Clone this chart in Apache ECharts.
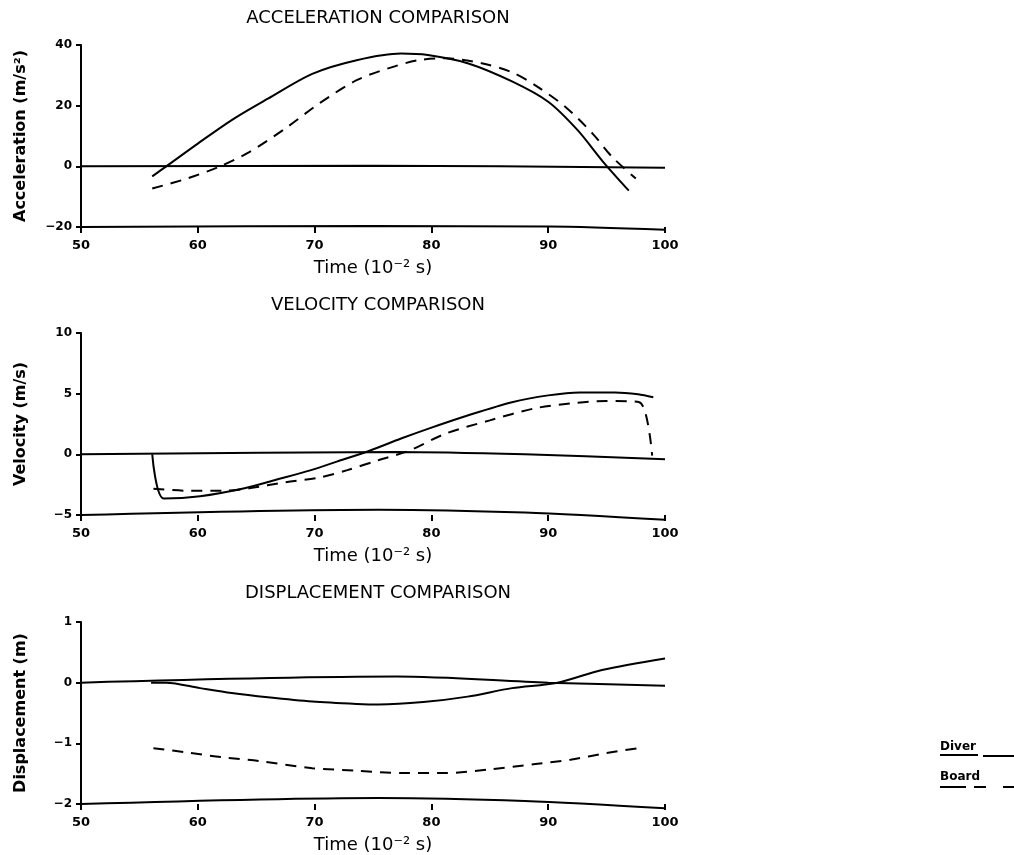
<!DOCTYPE html>
<html>
<head>
<meta charset="utf-8">
<script src="https://cdn.jsdelivr.net/npm/echarts@6/dist/echarts.min.js"></script>
<style>
  body { margin: 0; background: #fff; }
  #chart { width: 1014px; height: 855px; }
</style>
</head>
<body>
<div id="chart"></div>
<script>
// time axis ticks (10^-2 s)
var timeTicks = [50, 60, 70, 80, 90, 100];

// acceleration (m/s^2)
var accDiver = [[56.1,-3.3],[57.3,0],[60,7.5],[63,15.5],[66,22.3],[69.8,30.5],[73.6,35],[77.4,37.2],[79.7,36.7],[83.1,34],[86.9,28],[90,21.3],[92.5,12],[94.7,1.5],[96.9,-8]];
var accBoard = [[56.1,-7.3],[59.1,-4],[61.9,0],[64.4,4.7],[67.5,12.5],[70.5,21],[73.6,28.4],[76.3,32.3],[78.9,35],[81.2,35.6],[84.3,34],[86.9,31],[88.9,26.7],[91.5,19.5],[93.8,10.8],[95.5,3],[97.5,-4]];
var accZero = [[50,0],[75,0.2],[100,-0.5]];
var accBase = [[50,-20],[75,-19.7],[90,-19.8],[100,-20.9]];

// velocity (m/s)
var velDiver = [[56.1,0],[57.1,-3.65],[60.2,-3.46],[64,-2.8],[66.7,-2.1],[69.7,-1.3],[71.9,-0.6],[74.7,0.3],[77.4,1.3],[79.7,2.1],[83.1,3.2],[86.9,4.3],[90,4.86],[92.7,5.1],[95.7,5.1],[97.7,4.95],[99,4.7]];
var velBoard = [[56.2,-2.83],[59.1,-3],[62.1,-3],[64.4,-2.8],[67.5,-2.3],[70.5,-1.9],[72.8,-1.3],[75.4,-0.5],[78.1,0.3],[81.2,1.7],[85,2.8],[88.9,3.8],[92,4.2],[95,4.4],[97.8,4.3],[98.9,-0.1]];
var velZero = [[50,0],[77,0.2],[88,0],[100,-0.4]];
var velBase = [[50,-5],[75.5,-4.56],[88,-4.8],[100,-5.4]];

// displacement (m)
var dispDiver = [[56,0],[57.3,0],[60.2,-0.09],[62.9,-0.17],[66,-0.24],[69.8,-0.31],[73.6,-0.35],[75.5,-0.36],[79.3,-0.32],[83.1,-0.23],[86.9,-0.09],[90.8,0],[94.6,0.21],[100,0.4]];
var dispBoard = [[56.2,-1.08],[59.1,-1.15],[62.1,-1.23],[65.2,-1.29],[69.8,-1.41],[73.6,-1.45],[77.4,-1.49],[81.2,-1.49],[85,-1.43],[88.9,-1.34],[91.9,-1.27],[95,-1.16],[97.7,-1.08]];
var dispZero = [[50,0],[77,0.1],[90,0],[100,-0.05]];
var dispBase = [[50,-2],[75.5,-1.9],[88,-1.95],[100,-2.07]];

var titles = ['ACCELERATION COMPARISON', 'VELOCITY COMPARISON', 'DISPLACEMENT COMPARISON'];
var yNames = ['Acceleration (m/s²)', 'Velocity (m/s)', 'Displacement (m)'];
var yRanges = [[-20, 40, 20], [-5, 10, 5], [-2, 1, 1]];
var gridTops = [45, 333, 622];
var titleTops = [9, 296, 584];

var font = '"DejaVu Sans", sans-serif';
var chart = echarts.init(document.getElementById('chart'));

var grids = [], xAxes = [], yAxes = [], titleList = [];
for (var i = 0; i < 3; i++) {
  grids.push({ left: 81, width: 584, top: gridTops[i], height: 182 });
  titleList.push({
    text: titles[i], left: 378, top: titleTops[i], textAlign: 'center', padding: 0,
    textStyle: { fontFamily: font, fontSize: 18, fontWeight: 'normal', color: '#000' }
  });
  xAxes.push({
    gridIndex: i, type: 'value', min: 50, max: 100, interval: 10,
    name: 'Time (10⁻² s)', nameLocation: 'middle', nameGap: 32,
    nameTextStyle: { fontFamily: font, fontSize: 18, color: '#000' },
    axisLine: { show: false, onZero: false },
    axisTick: { show: true, length: 6, lineStyle: { color: '#000', width: 2 } },
    axisLabel: { fontFamily: font, fontSize: 13, fontWeight: 'bold', color: '#000', margin: 12,
      formatter: function (v) { return timeTicks.indexOf(v) >= 0 ? v : ''; } },
    splitLine: { show: false }
  });
  yAxes.push({
    gridIndex: i, type: 'value', min: yRanges[i][0], max: yRanges[i][1], interval: yRanges[i][2],
    name: yNames[i], nameLocation: 'middle', nameGap: 52,
    nameTextStyle: { fontFamily: font, fontSize: 16, fontWeight: 'bold', color: '#000' },
    axisLine: { show: true, onZero: false, lineStyle: { color: '#000', width: 2 } },
    axisTick: { show: true, length: 5, lineStyle: { color: '#000', width: 2 } },
    axisLabel: { fontFamily: font, fontSize: 12, fontWeight: 'bold', color: '#000', margin: 9,
      formatter: function (v) { return v < 0 ? '−' + Math.abs(v) : v; } },
    splitLine: { show: false }
  });
}

function line(idx, data, dashed) {
  return {
    type: 'line', xAxisIndex: idx, yAxisIndex: idx, data: data,
    showSymbol: false, smooth: 0.3, silent: true, clip: false,
    lineStyle: { color: '#000', width: 2, type: dashed ? [11, 8] : 'solid' }
  };
}

chart.setOption({
  animation: false,
  backgroundColor: '#fff',
  title: titleList,
  grid: grids,
  xAxis: xAxes,
  yAxis: yAxes,
  series: [
    line(0, accZero), line(0, accBase), line(0, accDiver), line(0, accBoard, true),
    line(1, velZero), line(1, velBase), line(1, velDiver), line(1, velBoard, true),
    line(2, dispZero), line(2, dispBase), line(2, dispDiver), line(2, dispBoard, true)
  ],
  graphic: [
    { type: 'text', left: 940, top: 741, style: { text: 'Diver', fontFamily: font, fontSize: 12, fontWeight: 'bold', fill: '#000' } },
    { type: 'line', shape: { x1: 940, y1: 755, x2: 978, y2: 755 }, style: { stroke: '#000', lineWidth: 2 } },
    { type: 'line', shape: { x1: 983, y1: 756, x2: 1014, y2: 756 }, style: { stroke: '#000', lineWidth: 2 } },
    { type: 'text', left: 940, top: 771, style: { text: 'Board', fontFamily: font, fontSize: 12, fontWeight: 'bold', fill: '#000' } },
    { type: 'line', shape: { x1: 940, y1: 787, x2: 966, y2: 787 }, style: { stroke: '#000', lineWidth: 2 } },
    { type: 'line', shape: { x1: 974, y1: 787, x2: 986, y2: 787 }, style: { stroke: '#000', lineWidth: 2 } },
    { type: 'line', shape: { x1: 1003, y1: 787, x2: 1014, y2: 787 }, style: { stroke: '#000', lineWidth: 2 } }
  ]
});
</script>
</body>
</html>
